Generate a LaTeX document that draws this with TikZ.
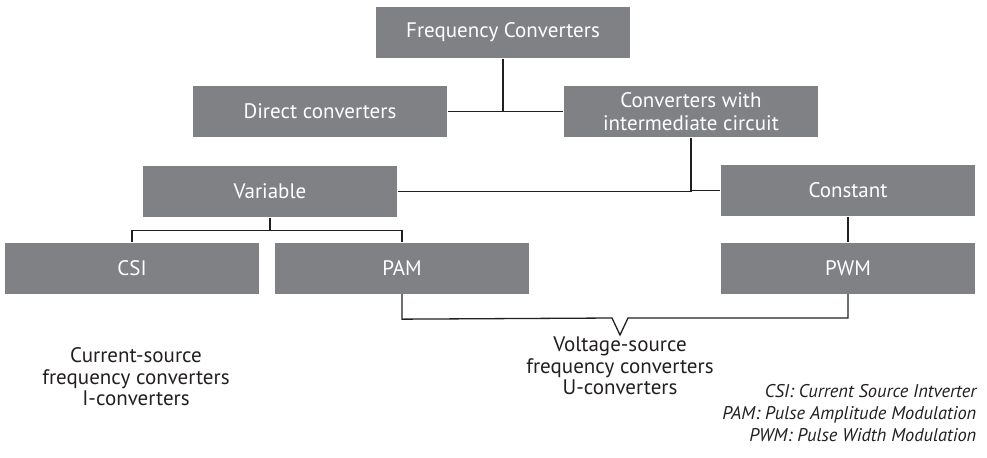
\documentclass[tikz,border=0pt]{standalone}
\usepackage{fontspec}
\setmainfont{PT Sans}
\usetikzlibrary{calc}
\definecolor{boxgray}{HTML}{808185}
\definecolor{inkdark}{HTML}{231F20}

\begin{document}
\begin{tikzpicture}[x=0.5pt,y=-0.5pt,line width=.65pt,
  grbox/.style={fill=boxgray,text=white,minimum width=127pt,minimum height=25.5pt,
    inner sep=0pt,font=\fontsize{10.5}{12}\selectfont},
  note/.style={text=inkdark,align=center,inner sep=0pt,
    font=\fontsize{10.5}{10.8}\selectfont},
  legend/.style={text=inkdark,align=right,inner sep=0pt,anchor=east,
    font=\fontsize{9.2}{10.8}\selectfont\itshape}]
\useasboundingbox (0,0) rectangle (987,457);
\node[grbox] (freq) at (503,32.5) {Frequency Converters};
\node[grbox] (direct) at (320,111.5) {Direct converters};
\node[grbox,align=center,font=\fontsize{10.5}{11.5}\selectfont] (inter) at (691,111.5) {Converters with\\intermediate circuit};
\node[grbox] (var) at (270,191.5) {Variable};
\node[grbox] (const) at (848,190.5) {Constant};
\node[grbox] (csi) at (132,268) {CSI};
\node[grbox] (pam) at (402,268) {PAM};
\node[grbox] (pwm) at (848,268) {PWM};
\coordinate (vtip) at (620,335);
\draw[inkdark] (freq.south) |- (direct.east);
\draw[inkdark] (freq.south) |- (inter.west);
\draw[inkdark] (inter.south) |- (var.east);
\draw[inkdark] (inter.south) |- (const.west);
\draw[inkdark] (var.south) -- ++(0,13) -| (csi.north);
\draw[inkdark] (var.south) -- ++(0,13) -| (pam.north);
\draw[inkdark] (const.south) -- (pwm.north);
\draw[inkdark] (pam.south) -- ++(0,25) -- ($(vtip)+(-8,-17)$) -- (vtip) -- ($(vtip)+(8,-17)$) -| (pwm.south);
\node[note] (cstext) at (136,377) {Current-source\\frequency converters\\I-converters};
\node[note] (vstext) at (620,366) {Voltage-source\\frequency converters\\U-converters};
\node[legend] (abbr) at (977,413) {CSI: Current Source Intverter\\PAM: Pulse Amplitude Modulation\\PWM: Pulse Width Modulation};
\end{tikzpicture}
\end{document}
